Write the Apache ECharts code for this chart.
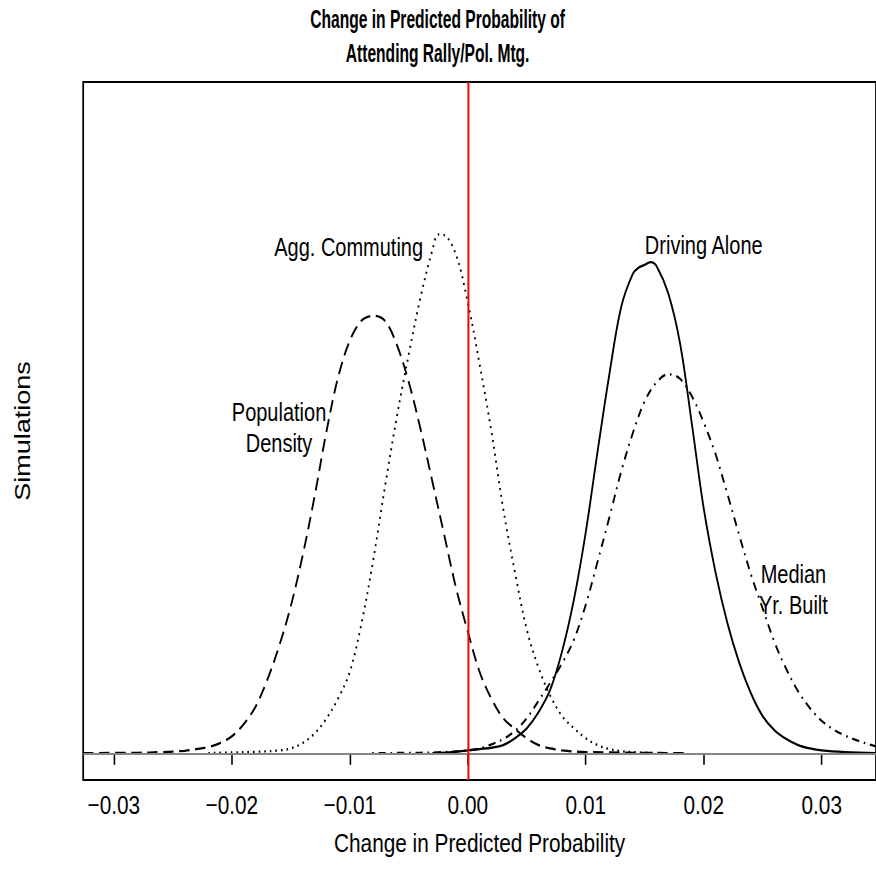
<!DOCTYPE html>
<html>
<head>
<meta charset="utf-8">
<script src="https://cdn.jsdelivr.net/npm/echarts@6/dist/echarts.min.js"></script>
<style>
  html, body { margin: 0; padding: 0; background: #fff; overflow: hidden; }
  /* the reference is drawn with narrow, tall type: render wider, then squeeze horizontally */
  #chart { width: 1095px; height: 873px; transform: scaleX(0.8); transform-origin: 0 0; }
</style>
</head>
<body>
<div id="chart"></div>
<script>
// title and axis texts
const titleLines = ['Change in Predicted Probability of', 'Attending Rally/Pol. Mtg.'];
const xName = 'Change in Predicted Probability';
const yName = 'Simulations';

// x ticks
const tickValues = [-0.03, -0.02, -0.01, 0, 0.01, 0.02, 0.03];
const tickLabels = ['\u22120.03', '\u22120.02', '\u22120.01', '0.00', '0.01', '0.02', '0.03'];

// density curves: [change, density]
const popDensity = [
  [-0.0326, 0.1], [-0.028, 0.15], [-0.026, 0.25], [-0.024, 0.45], [-0.023, 0.7],
  [-0.022, 1.0], [-0.021, 1.6], [-0.020, 2.6], [-0.019, 4.4], [-0.018, 7.0],
  [-0.017, 11.0], [-0.016, 16.0], [-0.015, 22.0], [-0.014, 29.5], [-0.013, 38.2],
  [-0.012, 47.8], [-0.011, 56.0], [-0.010, 61.5], [-0.009, 64.5], [-0.008, 65.2],
  [-0.007, 64.4], [-0.006, 60.8], [-0.005, 55.3], [-0.004, 48.3], [-0.003, 40.5],
  [-0.002, 32.6], [-0.001, 24.7], [0.000, 18.2], [0.001, 12.2], [0.002, 8.2],
  [0.003, 5.3], [0.004, 3.7], [0.005, 2.3], [0.006, 1.3], [0.007, 0.8],
  [0.008, 0.5], [0.010, 0.25], [0.0184, 0.1]
];
const aggCommuting = [
  [-0.022, 0.1], [-0.020, 0.2], [-0.018, 0.3], [-0.016, 0.5], [-0.015, 0.8],
  [-0.014, 1.6], [-0.013, 3.0], [-0.012, 5.2], [-0.011, 8.2], [-0.010, 12.2],
  [-0.009, 19.5], [-0.008, 29.0], [-0.007, 40.0], [-0.006, 50.3], [-0.005, 59.5],
  [-0.004, 68.0], [-0.003, 75.0], [-0.0025, 77.3], [-0.002, 77.2], [-0.001, 74.3],
  [0.000, 67.2], [0.001, 58.0], [0.002, 48.0], [0.003, 36.5], [0.004, 27.0],
  [0.005, 18.5], [0.006, 12.8], [0.007, 8.6], [0.008, 5.6], [0.009, 3.8],
  [0.010, 2.3], [0.011, 1.3], [0.012, 0.7], [0.013, 0.4], [0.014, 0.25],
  [0.016, 0.1]
];
const drivingAlone = [
  [-0.003, 0.1], [-0.001, 0.3], [0.000, 0.5], [0.001, 0.7], [0.002, 0.9],
  [0.003, 1.3], [0.004, 2.3], [0.005, 3.8], [0.006, 6.2], [0.007, 9.6],
  [0.008, 15.3], [0.009, 23.0], [0.010, 33.0], [0.011, 45.0], [0.012, 56.5],
  [0.013, 66.5], [0.014, 71.5], [0.0145, 72.4], [0.0150, 72.8], [0.0155, 73.2],
  [0.016, 72.6], [0.017, 68.5], [0.018, 61.0], [0.019, 49.0], [0.020, 36.5],
  [0.021, 27.0], [0.022, 19.5], [0.023, 13.6], [0.024, 9.0], [0.025, 5.6],
  [0.026, 3.5], [0.027, 2.2], [0.028, 1.3], [0.029, 0.8], [0.030, 0.5],
  [0.032, 0.25], [0.0346, 0.1]
];
const medianYrBuilt = [
  [-0.0081, 0.1], [-0.004, 0.15], [-0.002, 0.25], [0.000, 0.5], [0.001, 0.8],
  [0.002, 1.4], [0.003, 2.2], [0.004, 3.4], [0.005, 5.3], [0.006, 7.9],
  [0.007, 10.6], [0.008, 13.5], [0.009, 17.0], [0.010, 22.2], [0.011, 28.6],
  [0.012, 35.2], [0.013, 42.0], [0.014, 47.8], [0.015, 52.5], [0.016, 55.3],
  [0.017, 56.5], [0.018, 55.8], [0.019, 53.2], [0.020, 49.3], [0.021, 44.6],
  [0.022, 38.7], [0.023, 32.6], [0.024, 26.7], [0.025, 21.6], [0.026, 16.6],
  [0.027, 12.6], [0.028, 9.3], [0.029, 6.8], [0.030, 4.9], [0.031, 3.6],
  [0.032, 2.7], [0.033, 2.0], [0.034, 1.4], [0.0346, 1.1]
];

const FONT = "'Liberation Sans', Arial, sans-serif";

function curveLabel(text, coord) {
  return {
    silent: true,
    symbol: 'circle',
    symbolSize: 1,
    itemStyle: { color: 'rgba(0,0,0,0)' },
    label: {
      show: true, position: 'inside', formatter: text,
      color: '#000', fontFamily: FONT, fontSize: 25, lineHeight: 31
    },
    data: [{ coord: coord }]
  };
}

function curve(name, data, type, label, coord) {
  return {
    name: name,
    type: 'line',
    data: data,
    showSymbol: false,
    smooth: 0.35,
    lineStyle: { color: '#000', width: 2.3, type: type },
    markPoint: curveLabel(label, coord),
    z: 3
  };
}

// svg so the horizontal squeeze stays crisp
const chart = echarts.init(document.getElementById('chart'), null, { renderer: 'svg' });
chart.setOption({
  animation: false,
  backgroundColor: '#fff',
  graphic: titleLines.map(function (t, i) {
    return {
      type: 'text', x: 547, y: 20 + i * 34, scaleX: 0.75,
      style: {
        text: t, fill: '#000', font: 'bold 26px "Liberation Sans", Arial, sans-serif',
        textAlign: 'center', textVerticalAlign: 'middle'
      }
    };
  }),
  grid: {
    left: 104, top: 82, width: 995, height: 698,
    show: true, borderColor: '#000', borderWidth: 2.2
  },
  xAxis: {
    type: 'value', min: -0.0326, max: 0.0346,
    name: xName, nameLocation: 'middle', nameGap: 50,
    nameTextStyle: { fontFamily: FONT, fontSize: 26, color: '#000' },
    axisLine: { show: true, lineStyle: { color: '#000', width: 2 } },
    axisTick: { show: true, length: 11, customValues: tickValues, lineStyle: { color: '#000', width: 2 } },
    axisLabel: {
      customValues: tickValues, margin: 12,
      fontFamily: FONT, fontSize: 26, color: '#000',
      formatter: function (v) {
        const i = tickValues.findIndex(function (t) { return Math.abs(t - v) < 1e-9; });
        return i >= 0 ? tickLabels[i] : '';
      }
    },
    splitLine: { show: false }
  },
  yAxis: {
    type: 'value', min: -3.9, max: 100,
    name: yName, nameLocation: 'middle', nameGap: 62, nameRotate: 90,
    nameTextStyle: { fontFamily: FONT, fontSize: 27, color: '#000' },
    axisLine: { show: false }, axisTick: { show: false }, axisLabel: { show: false },
    splitLine: { show: false }
  },
  series: [
    curve('Population Density', popDensity, [13, 7], 'Population\nDensity', [-0.0160, 48.5]),
    curve('Agg. Commuting', aggCommuting, [2, 5], 'Agg. Commuting', [-0.0101, 75.4]),
    curve('Driving Alone', drivingAlone, 'solid', 'Driving Alone', [0.0200, 75.7]),
    curve('Median Yr. Built', medianYrBuilt, [2, 6, 9, 6], 'Median\nYr. Built', [0.0276, 24.4]),
    {
      name: 'ref', type: 'line', data: [], z: 5,
      markLine: {
        silent: true, symbol: 'none', label: { show: false },
        data: [
          { yAxis: 0, lineStyle: { color: '#b3b3b3', width: 1.6, type: 'solid' } },
          { xAxis: 0, lineStyle: { color: '#ff0000', width: 2.5, type: 'solid' } }
        ]
      }
    }
  ]
});
</script>
</body>
</html>
